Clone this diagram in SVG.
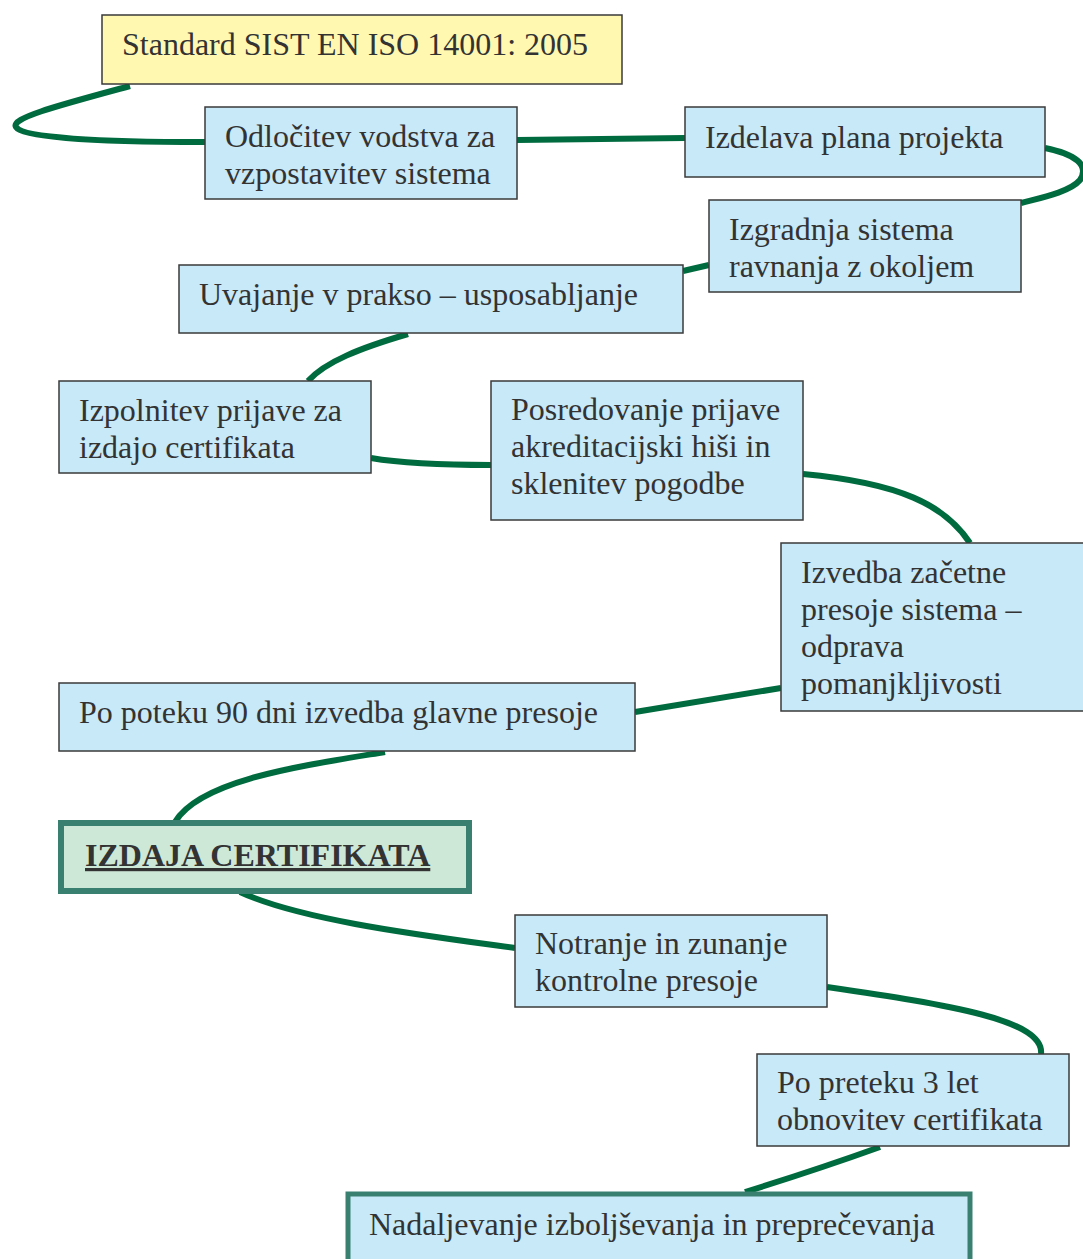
<svg xmlns="http://www.w3.org/2000/svg" width="1083" height="1259" viewBox="0 0 1083 1259">
<style>
.box{fill:#C8E9F8;stroke:#3a3a3a;stroke-width:1.5}
.yel{fill:#FFF8B0;stroke:#3a3a3a;stroke-width:1.5}
.hi{fill:#CDE8D6;stroke:#3A8070;stroke-width:6}
.hb{fill:#C8E9F8;stroke:#3A8070;stroke-width:5}
text{font-family:"Liberation Serif","Times New Roman",serif;font-size:32px;fill:#333}
.b{font-weight:bold;text-decoration:underline}
.c{fill:none;stroke:#006B3F;stroke-width:6;stroke-linecap:butt}
</style>
<g id="connectors">
<path class="c" d="M130,86 C60,105 10,118 16,127 C22,138 100,142 205,142"/>
<path class="c" d="M517,140 L685,138"/>
<path class="c" d="M1045,148 C1075,154 1090,165 1080,180 C1070,192 1040,198 1021,203"/>
<path class="c" d="M709,265 L683,271"/>
<path class="c" d="M408,334 C360,348 325,362 308,381"/>
<path class="c" d="M371,458 C400,463 440,465 491,465"/>
<path class="c" d="M803,474 C900,483 945,505 970,543"/>
<path class="c" d="M781,688 L635,712"/>
<path class="c" d="M385,752 C300,766 200,780 175,822"/>
<path class="c" d="M240,892 C300,920 420,935 515,948"/>
<path class="c" d="M827,987 C950,1005 1045,1020 1041,1054"/>
<path class="c" d="M880,1147 C830,1165 790,1178 745,1192"/>
</g>
<g id="n1"><rect class="yel" x="102" y="15" width="520" height="69"/><text x="122" y="55">Standard SIST EN ISO 14001: 2005</text></g>
<g id="n2"><rect class="box" x="205" y="107" width="312" height="92"/><text x="225" y="147">Odločitev vodstva za</text><text x="225" y="184">vzpostavitev sistema</text></g>
<g id="n3"><rect class="box" x="685" y="107" width="360" height="70"/><text x="705" y="148">Izdelava plana projekta</text></g>
<g id="n4"><rect class="box" x="709" y="200" width="312" height="92"/><text x="729" y="240">Izgradnja sistema</text><text x="729" y="277">ravnanja z okoljem</text></g>
<g id="n5"><rect class="box" x="179" y="265" width="504" height="68"/><text x="199" y="305">Uvajanje v prakso – usposabljanje</text></g>
<g id="n6"><rect class="box" x="59" y="381" width="312" height="92"/><text x="79" y="421">Izpolnitev prijave za</text><text x="79" y="458">izdajo certifikata</text></g>
<g id="n7"><rect class="box" x="491" y="381" width="312" height="139"/><text x="511" y="420">Posredovanje prijave</text><text x="511" y="457">akreditacijski hiši in</text><text x="511" y="494">sklenitev pogodbe</text></g>
<g id="n8"><rect class="box" x="781" y="543" width="310" height="168"/><text x="801" y="583">Izvedba začetne</text><text x="801" y="620">presoje sistema –</text><text x="801" y="657">odprava</text><text x="801" y="694">pomanjkljivosti</text></g>
<g id="n9"><rect class="box" x="59" y="683" width="576" height="68"/><text x="79" y="723">Po poteku 90 dni izvedba glavne presoje</text></g>
<g id="n10"><rect class="hi" x="61" y="823" width="408" height="68"/><text class="b" x="85" y="866">IZDAJA CERTIFIKATA</text></g>
<g id="n11"><rect class="box" x="515" y="915" width="312" height="92"/><text x="535" y="954">Notranje in zunanje</text><text x="535" y="991">kontrolne presoje</text></g>
<g id="n12"><rect class="box" x="757" y="1054" width="312" height="92"/><text x="777" y="1093">Po preteku 3 let</text><text x="777" y="1130">obnovitev certifikata</text></g>
<g id="n13"><rect class="hb" x="348" y="1194" width="622" height="80"/><text x="369" y="1235">Nadaljevanje izboljševanja in preprečevanja</text></g>
</svg>
